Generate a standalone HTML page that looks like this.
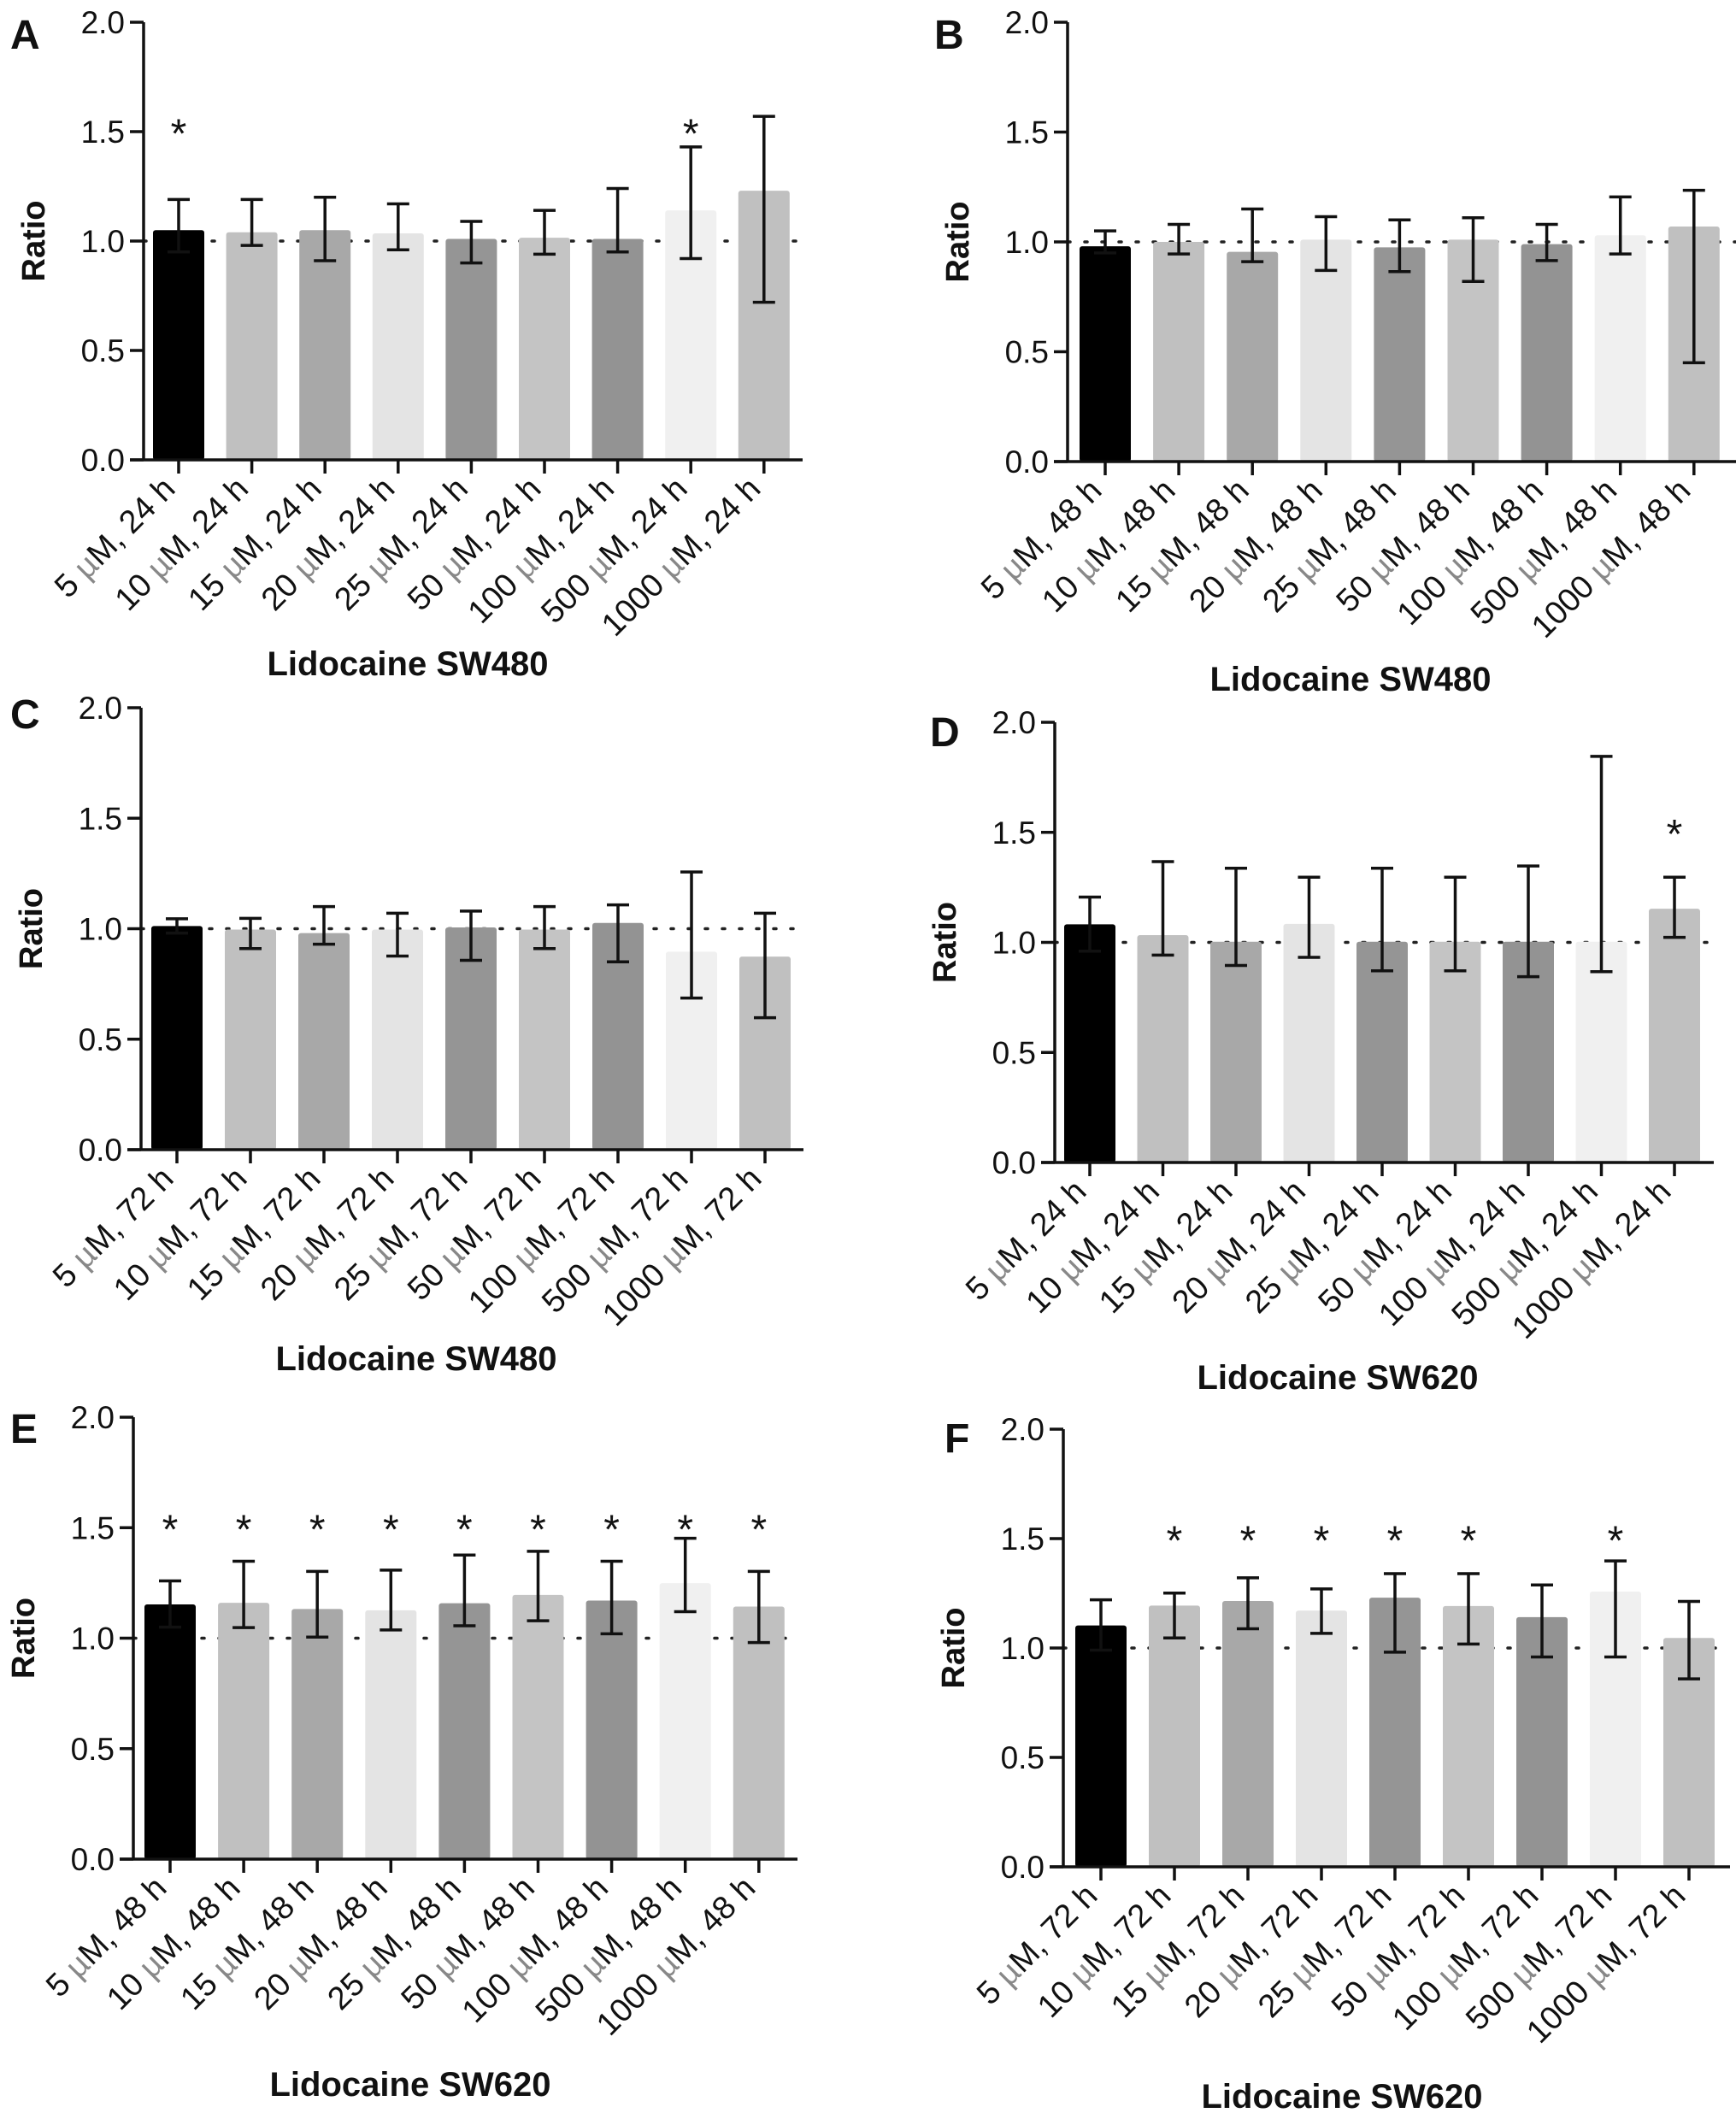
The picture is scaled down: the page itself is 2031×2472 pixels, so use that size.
<!DOCTYPE html>
<html><head><meta charset="utf-8">
<style>
html,body{margin:0;padding:0;background:#fff;}
svg{display:block;}
text{font-family:"Liberation Sans",Arial,sans-serif;fill:#111;}
</style></head>
<body>
<svg id="fig" width="2031" height="2472" viewBox="0 0 2031 2472" xmlns="http://www.w3.org/2000/svg"></svg>
<script>
const doses = ["5","10","15","20","25","50","100","500","1000"];
const barColors = ["#000000","#c0c0c0","#a8a8a8","#e4e4e4","#959595","#c4c4c4","#939393","#f0f0f0","#c0c0c0"];
const yTicks = [0,0.5,1.0,1.5,2.0];
const yTickLabels = ["0.0","0.5","1.0","1.5","2.0"];

const meanA = [1.05,1.04,1.05,1.035,1.01,1.015,1.01,1.14,1.23];
const hiA   = [1.19,1.19,1.20,1.17,1.09,1.14,1.24,1.43,1.57];
const loA   = [0.95,0.98,0.91,0.96,0.90,0.94,0.95,0.92,0.72];
const starA = [1,0,0,0,0,0,0,1,0];

const meanB = [0.98,1.00,0.955,1.01,0.975,1.01,0.99,1.03,1.07];
const hiB   = [1.05,1.08,1.15,1.115,1.10,1.11,1.08,1.205,1.235];
const loB   = [0.95,0.945,0.91,0.87,0.865,0.82,0.915,0.945,0.45];
const starB = [0,0,0,0,0,0,0,0,0];

const meanC = [1.012,0.996,0.98,0.996,1.006,0.996,1.026,0.896,0.874];
const hiC   = [1.045,1.047,1.10,1.07,1.08,1.10,1.108,1.257,1.07];
const loC   = [0.98,0.91,0.93,0.876,0.857,0.91,0.85,0.686,0.597];
const starC = [0,0,0,0,0,0,0,0,0];

const meanD = [1.082,1.033,1.003,1.084,1.003,1.003,1.003,1.003,1.153];
const hiD   = [1.206,1.367,1.337,1.296,1.337,1.296,1.347,1.845,1.296];
const loD   = [0.96,0.942,0.895,0.932,0.871,0.871,0.844,0.867,1.023];
const starD = [0,0,0,0,0,0,0,0,1];

const meanE = [1.153,1.16,1.132,1.126,1.158,1.196,1.17,1.249,1.143];
const hiE   = [1.259,1.348,1.302,1.308,1.376,1.393,1.348,1.452,1.302];
const loE   = [1.05,1.048,1.005,1.037,1.056,1.079,1.02,1.12,0.98];
const starE = [1,1,1,1,1,1,1,1,1];

const meanF = [1.103,1.194,1.215,1.171,1.23,1.192,1.141,1.258,1.046];
const hiF   = [1.22,1.251,1.321,1.27,1.34,1.34,1.288,1.398,1.213];
const loF   = [0.99,1.046,1.088,1.067,0.981,1.018,0.959,0.959,0.859];
const starF = [0,1,1,1,1,1,0,1,0];

const NS = "http://www.w3.org/2000/svg";
const svg = document.getElementById("fig");
function mk(tag, attrs, parent){
  const e = document.createElementNS(NS, tag);
  for (const k in attrs) e.setAttribute(k, attrs[k]);
  (parent||svg).appendChild(e);
  return e;
}

function panel(p){
  const g = mk("g", {});
  
  
  const yS = v => p.y0 - (p.y0 - p.y2) * v / 2.0;
  const xS = i => p.x0 + p.step * i;
  const bw = 60;

  const L = mk("text", {x:p.lx, y:p.ly, "font-size":48, "font-weight":"bold"}, g);
  L.textContent = p.letter;
  
  

  const dl = mk("line", {x1:p.ax, x2:p.right, y1:yS(1), y2:yS(1), stroke:"#222", "stroke-width":3.5, "stroke-dasharray":"3 17", "stroke-linecap":"round"}, g);
  
  

  for (let i=0;i<p.mean.length;i++){
    const cx = xS(i);
    const r = mk("rect", {x:cx-bw/2, y:yS(p.mean[i]), width:bw, height:yS(0)-yS(p.mean[i]), fill:barColors[i], rx:3}, g);
    
    
    const eg = mk("g", {stroke:"#111", "stroke-width":3.5, fill:"none"}, g);
    
    
    mk("line", {x1:cx, x2:cx, y1:yS(p.hi[i]), y2:yS(p.lo[i])}, eg);
    mk("line", {x1:cx-13, x2:cx+13, y1:yS(p.hi[i]), y2:yS(p.hi[i])}, eg);
    mk("line", {x1:cx-13, x2:cx+13, y1:yS(p.lo[i]), y2:yS(p.lo[i])}, eg);
    if (p.star[i]){
      const s = mk("text", {x:cx, y:yS(1.53)+26, "font-size":48, "text-anchor":"middle", fill:"#222"}, g);
      s.textContent = "*";
      
      
    }
    mk("line", {x1:cx, x2:cx, y1:yS(0), y2:yS(0)+16, stroke:"#111", "stroke-width":3.5}, g);
    const lx = cx - 2, ly = yS(0) + 36;
    const t = mk("text", {x:lx, y:ly, "font-size":38, "text-anchor":"end", fill:"#222", transform:"rotate(-45 "+lx+" "+ly+")"}, g);
    
    
    const t1 = mk("tspan", {}, t); t1.textContent = doses[i] + " ";
    const t2 = mk("tspan", {fill:"#888"}, t); t2.textContent = "\u00b5";
    const t3 = mk("tspan", {}, t); t3.textContent = "M, " + p.hours + " h";
  }

  const ya = mk("line", {x1:p.ax, x2:p.ax, y1:yS(2), y2:yS(0)+1.5, stroke:"#111", "stroke-width":3.5}, g);
  
  
  const xa = mk("line", {x1:p.ax-16, x2:p.right, y1:yS(0), y2:yS(0), stroke:"#111", "stroke-width":3.5}, g);
  
  
  for (let k=0;k<yTicks.length;k++){
    const yy = yS(yTicks[k]);
    mk("line", {x1:p.ax-16, x2:p.ax, y1:yy, y2:yy, stroke:"#111", "stroke-width":3.5}, g);
    const tl = mk("text", {x:p.ax-22, y:yy+13, "font-size":37, "text-anchor":"end", fill:"#222"}, g);
    tl.textContent = yTickLabels[k];
    
    
  }
  const ry = (yS(0)+yS(2))/2;
  const rxp = p.ax-116;
  const rt = mk("text", {x:rxp, y:ry, "font-size":38, "font-weight":"bold", "text-anchor":"middle", fill:"#222", transform:"rotate(-90 "+rxp+" "+ry+")"}, g);
  rt.textContent = "Ratio";
  
  
  const tt = mk("text", {x:p.tx, y:p.ty, "font-size":40, "font-weight":"bold", "text-anchor":"middle", fill:"#222"}, g);
  tt.textContent = p.title;
  
  
}

panel({letter:"A", lx:12, ly:57, ax:168, y2:26, y0:538, x0:209, step:85.6, right:939, mean:meanA, hi:hiA, lo:loA, star:starA, hours:"24", title:"Lidocaine SW480", tx:477, ty:790});
panel({letter:"B", lx:1093, ly:57, ax:1249, y2:26, y0:540, x0:1293, step:86.1, right:2031, mean:meanB, hi:hiB, lo:loB, star:starB, hours:"48", title:"Lidocaine SW480", tx:1580, ty:808});
panel({letter:"C", lx:12, ly:852, ax:165, y2:828, y0:1345, x0:207, step:86, right:940, mean:meanC, hi:hiC, lo:loC, star:starC, hours:"72", title:"Lidocaine SW480", tx:487, ty:1603});
panel({letter:"D", lx:1088, ly:873, ax:1234, y2:845, y0:1360, x0:1275, step:85.5, right:2005, mean:meanD, hi:hiD, lo:loD, star:starD, hours:"24", title:"Lidocaine SW620", tx:1565, ty:1625});
panel({letter:"E", lx:12, ly:1688, ax:156, y2:1658, y0:2175, x0:199, step:86.1, right:933, mean:meanE, hi:hiE, lo:loE, star:starE, hours:"48", title:"Lidocaine SW620", tx:480, ty:2452});
panel({letter:"F", lx:1105, ly:1699, ax:1244, y2:1672, y0:2184, x0:1288, step:86, right:2024, mean:meanF, hi:hiF, lo:loF, star:starF, hours:"72", title:"Lidocaine SW620", tx:1570, ty:2466});
</script>
</body></html>
